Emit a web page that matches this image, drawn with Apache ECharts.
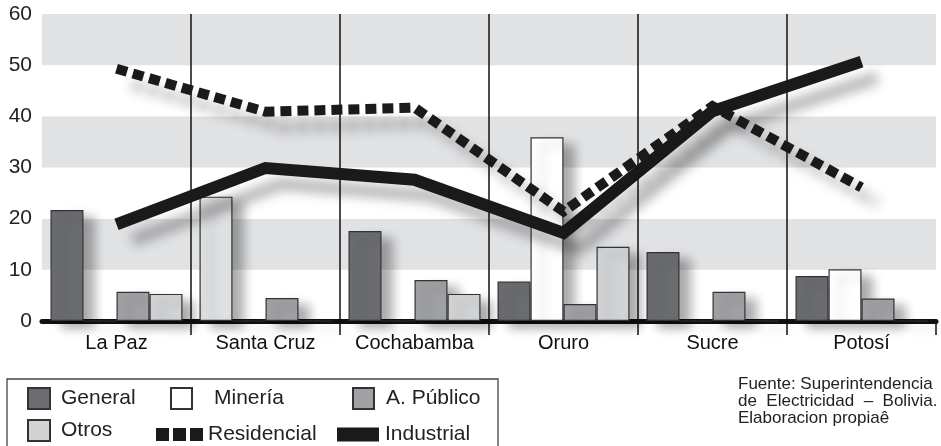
<!DOCTYPE html>
<html>
<head>
<meta charset="utf-8">
<script src="https://cdn.jsdelivr.net/npm/echarts@6/dist/echarts.min.js"></script>
<style>
html,body{margin:0;padding:0;background:#fff;}
#chart{width:941px;height:446px;}
</style>
</head>
<body>
<div id="chart"></div>
<script>
const categories = ['La Paz', 'Santa Cruz', 'Cochabamba', 'Oruro', 'Sucre', 'Potosí'];
const yTicks = [0, 10, 20, 30, 40, 50, 60];
const general = [21.7, 24.3, 17.6, 7.7, 13.5, 8.8];
const mineria = [0, 0, 0, 35.9, 0, 10.1];
const apublico = [5.7, 4.5, 8.0, 3.3, 5.7, 4.4];
const otros = [5.3, 0, 5.3, 14.5, 0, 0];
const residencial = [49.3, 40.9, 41.7, 21.4, 42.0, 26.1];
const industrial = [18.9, 29.9, 27.6, 17.2, 41.0, 50.7];
const sourceLines = ['Fuente: Superintendencia', 'de  Electricidad  –  Bolivia.', 'Elaboracion propiaê'];

const FONT = "'Liberation Sans', Arial, sans-serif";
const barShadow = {shadowColor: 'rgba(0,0,0,0.33)', shadowBlur: 11, shadowOffsetX: 11, shadowOffsetY: 7};
const lineShadow = {shadowColor: 'rgba(0,0,0,0.3)', shadowBlur: 12, shadowOffsetX: 16, shadowOffsetY: 16};
const noShadow = {shadowColor: 'rgba(0,0,0,0)', shadowBlur: 0, shadowOffsetX: 0, shadowOffsetY: 0};

function barSeries(name, values, color) {
  return {
    name: name, type: 'bar', data: values, barWidth: 33, barGap: '0%',
    itemStyle: Object.assign({color: color, borderColor: '#333', borderWidth: 1.2}, barShadow),
    emphasis: {disabled: true}
  };
}
// Santa Cruz "General" bar is drawn in a light tone in the reference
const generalData = general.map((v, i) => i === 1 ? {value: v, itemStyle: {color: '#dfe0e2'}} : v);

function legendAt(name, left, top, w, h, icon, padLeft, extraStyle) {
  return {
    data: [{name: name, icon: icon}], left: left, top: top, itemWidth: w, itemHeight: h,
    selectedMode: false, padding: 0,
    textStyle: {fontSize: 21, color: '#222', fontFamily: FONT, padding: [0, 0, 0, padLeft]},
    itemStyle: Object.assign({}, noShadow, extraStyle || {}),
    lineStyle: {width: 0}
  };
}

const option = {
  animation: false,
  textStyle: {fontFamily: FONT},
  grid: {left: 42, right: 5, top: 14, bottom: 125, containLabel: false},
  xAxis: {
    type: 'category', data: categories, boundaryGap: true,
    axisLine: {show: true, lineStyle: {color: '#111', width: 5}},
    axisTick: {show: true, length: 14, lineStyle: {color: '#111', width: 1.5},
      interval: function (i) { return i > 0; }},
    axisLabel: {interval: 0, fontSize: 20, color: '#111', margin: 12, fontFamily: FONT},
    splitLine: {show: true, interval: 0, showMinLine: false, showMaxLine: false, lineStyle: {color: '#111', width: 1.5}}
  },
  yAxis: {
    type: 'value', min: yTicks[0], max: yTicks[yTicks.length - 1], interval: 10,
    axisLine: {show: false}, axisTick: {show: false},
    axisLabel: {fontSize: 21, color: '#222', margin: 10, fontFamily: FONT, padding: [8, 0, 0, 0]},
    splitLine: {show: false},
    splitArea: {show: true, areaStyle: {color: ['#ffffff', '#e1e2e4']}}
  },
  legend: [
    legendAt('General', 27, 387, 22, 21, 'rect', 6),
    legendAt('Minería', 170, 387, 21, 21, 'rect', 17),
    legendAt('A. Público', 352, 387, 21, 21, 'rect', 7),
    legendAt('Otros', 27, 419, 22, 21, 'rect', 6),
    legendAt('Residencial', 156, 424, 47, 14, 'path://M0,0H13V13H0Z M17,0H30V13H17Z M34,0H47V13H34Z', 0, {color: '#1a1a1a', borderWidth: 0}),
    legendAt('Industrial', 337, 424, 42, 14, 'rect', 1, {color: '#1a1a1a', borderWidth: 0})
  ],
  title: {
    text: sourceLines.join('\n'), left: 738, top: 376, padding: 0,
    textStyle: {fontSize: 17, lineHeight: 17, fontWeight: 'normal', color: '#222', fontFamily: FONT}
  },
  graphic: [{
    type: 'rect', shape: {x: 7, y: 379, width: 491, height: 80},
    style: {fill: 'none', stroke: '#444', lineWidth: 1.3}, silent: true, z: 0
  }],
  series: [
    barSeries('General', generalData, '#6b6c70'),
    barSeries('Minería', mineria, '#ffffff'),
    barSeries('A. Público', apublico, '#a0a1a5'),
    barSeries('Otros', otros, '#d2d3d5'),
    {
      name: 'Industrial', type: 'line', data: industrial, symbol: 'none', z: 3,
      itemStyle: {color: '#1a1a1a'},
      lineStyle: Object.assign({color: '#1a1a1a', width: 12, cap: 'butt', join: 'miter'}, lineShadow),
      emphasis: {disabled: true}
    },
    {
      name: 'Residencial', type: 'line', data: residencial, symbol: 'none', z: 4,
      itemStyle: {color: '#1a1a1a'},
      lineStyle: Object.assign({color: '#1a1a1a', width: 10, type: [11, 6], cap: 'butt', join: 'miter'}, lineShadow),
      emphasis: {disabled: true}
    }
  ]
};

const chart = echarts.init(document.getElementById('chart'), null, {renderer: 'canvas'});
chart.setOption(option);
</script>
</body>
</html>
